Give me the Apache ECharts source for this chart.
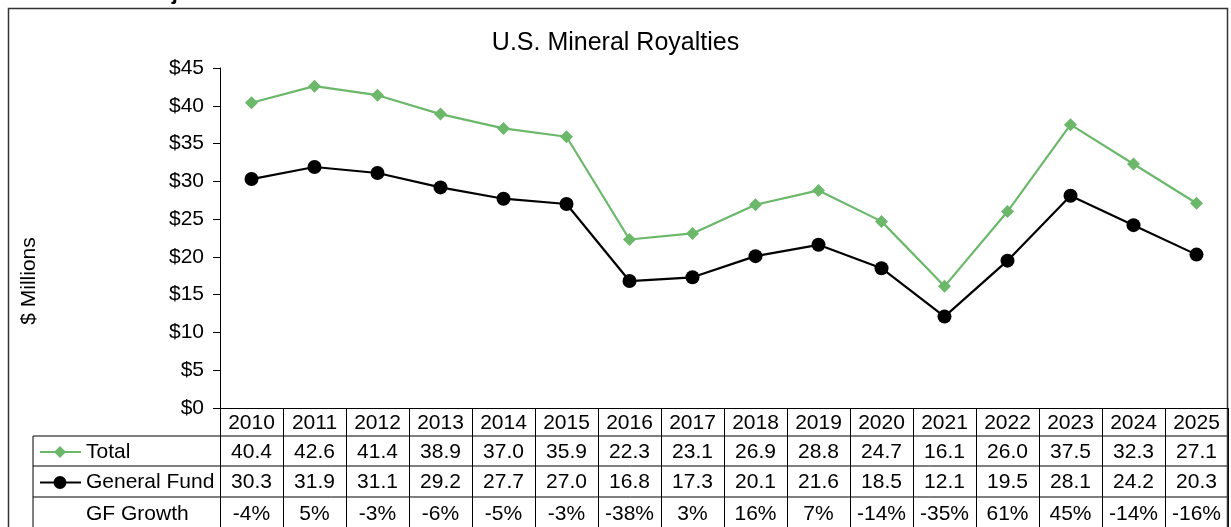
<!DOCTYPE html>
<html>
<head>
<meta charset="utf-8">
<script src="https://cdn.jsdelivr.net/npm/echarts@6/dist/echarts.min.js"></script>
<style>
  html, body { margin: 0; padding: 0; background: #fff; }
  #chart { width: 1231px; height: 527px; }
</style>
</head>
<body>
<div id="chart"></div>
<script>
const years = ['2010', '2011', '2012', '2013', '2014', '2015', '2016', '2017',
  '2018', '2019', '2020', '2021', '2022', '2023', '2024', '2025'];
const total = [40.4, 42.6, 41.4, 38.9, 37.0, 35.9, 22.3, 23.1, 26.9, 28.8, 24.7, 16.1, 26.0, 37.5, 32.3, 27.1];
const generalFund = [30.3, 31.9, 31.1, 29.2, 27.7, 27.0, 16.8, 17.3, 20.1, 21.6, 18.5, 12.1, 19.5, 28.1, 24.2, 20.3];
const gfGrowth = ['-4%', '5%', '-3%', '-6%', '-5%', '-3%', '-38%', '3%', '16%', '7%', '-14%', '-35%', '61%', '45%', '-14%', '-16%'];

const GREEN = '#6bb86b';
const FAMILY = '"Liberation Sans", Arial, sans-serif';
const FONT = '21px ' + FAMILY;

const chart = echarts.init(document.getElementById('chart'), null, { renderer: 'canvas' });

chart.setOption({
  animation: false,
  title: {
    text: 'U.S. Mineral Royalties',
    left: 'center',
    top: 26,
    textStyle: { fontFamily: FAMILY, fontSize: 25, fontWeight: 'normal', color: '#000' }
  },
  grid: { left: 220, right: 3, top: 68, bottom: 119 },
  xAxis: {
    type: 'category',
    data: years,
    boundaryGap: true,
    axisLine: { lineStyle: { color: '#000', width: 1 } },
    axisTick: { show: false },
    axisLabel: { show: false }
  },
  yAxis: {
    type: 'value',
    min: 0,
    max: 45,
    interval: 5,
    axisLine: { show: true, lineStyle: { color: '#000', width: 1 } },
    axisTick: { show: true, length: 7, lineStyle: { color: '#000' } },
    splitLine: { show: false },
    axisLabel: {
      formatter: '${value}',
      fontFamily: FAMILY,
      fontSize: 21,
      color: '#000',
      margin: 16
    }
  },
  series: [
    {
      name: 'Total',
      type: 'line',
      data: total,
      symbol: 'diamond',
      symbolSize: 13,
      lineStyle: { color: GREEN, width: 2.2 },
      itemStyle: { color: GREEN }
    },
    {
      name: 'General Fund',
      type: 'line',
      data: generalFund,
      symbol: 'circle',
      symbolSize: 14,
      lineStyle: { color: '#000', width: 2.2 },
      itemStyle: { color: '#000' }
    }
  ]
});

// data table below the plot, laid out on the category axis
const x0 = chart.convertToPixel({ xAxisIndex: 0 }, 0);
const x1 = chart.convertToPixel({ xAxisIndex: 0 }, 1);
const band = x1 - x0;
const axisY = chart.convertToPixel({ yAxisIndex: 0 }, 0);
const rowTops = [axisY, axisY + 28, axisY + 58, axisY + 89, axisY + 121];
const leftEdge = x0 - band / 2;
const rightEdge = chart.convertToPixel({ xAxisIndex: 0 }, years.length - 1) + band / 2;
const labelLeft = 33;

const els = [];
const line = (xa, ya, xb, yb) => els.push({
  type: 'line',
  shape: { x1: xa, y1: ya, x2: xb, y2: yb },
  style: { stroke: '#000', lineWidth: 1 },
  silent: true
});
const text = (t, x, y, align) => els.push({
  type: 'text',
  style: { text: t, x: x, y: y, align: align || 'center', verticalAlign: 'middle', font: FONT, fill: '#000' },
  silent: true
});

// horizontal rules
line(leftEdge, rowTops[1], rightEdge, rowTops[1]);
line(labelLeft, rowTops[1], leftEdge, rowTops[1]);
line(labelLeft, rowTops[2], rightEdge, rowTops[2]);
line(labelLeft, rowTops[3], rightEdge, rowTops[3]);
line(labelLeft, rowTops[1], labelLeft, rowTops[4]);

// column rules
for (let i = 0; i <= years.length; i++) {
  const x = Math.round(leftEdge + i * band) + 0.5;
  line(x, rowTops[0], x, rowTops[4]);
}

const rows = [years, total.map(v => v.toFixed(1)), generalFund.map(v => v.toFixed(1)), gfGrowth];
rows.forEach((row, r) => {
  const cy = (rowTops[r] + rowTops[r + 1]) / 2 + 1;
  row.forEach((v, i) => text(v, chart.convertToPixel({ xAxisIndex: 0 }, i), cy));
});

// row labels with legend keys
const cyT = (rowTops[1] + rowTops[2]) / 2 + 1;
const cyG = (rowTops[2] + rowTops[3]) / 2 + 1;
const cyR = (rowTops[3] + rowTops[4]) / 2 + 1;
els.push({ type: 'line', shape: { x1: 40, y1: cyT, x2: 81, y2: cyT }, style: { stroke: GREEN, lineWidth: 2 }, silent: true });
els.push({ type: 'polygon', shape: { points: [[60, cyT - 6], [66, cyT], [60, cyT + 6], [54, cyT]] }, style: { fill: GREEN }, silent: true });
els.push({ type: 'line', shape: { x1: 40, y1: cyG, x2: 81, y2: cyG }, style: { stroke: '#000', lineWidth: 2 }, silent: true });
els.push({ type: 'circle', shape: { cx: 60, cy: cyG, r: 6.5 }, style: { fill: '#000' }, silent: true });
text('Total', 86, cyT, 'left');
text('General Fund', 86, cyG, 'left');
text('GF Growth', 86, cyR, 'left');

// y axis title, sitting lower than the plot middle as in the original
els.push({
  type: 'text',
  x: 29,
  y: 281,
  rotation: Math.PI / 2,
  style: { text: '$ Millions', x: 0, y: 0, align: 'center', verticalAlign: 'middle', font: FONT, fill: '#000' },
  silent: true
});

// outer chart frame and the cut-off page heading above it
els.push({ type: 'rect', shape: { x: 8.5, y: 8.5, width: 1219, height: 540 }, style: { fill: null, stroke: '#333', lineWidth: 1.5 }, silent: true });
els.push({
  type: 'text',
  style: { text: 'Revenue and Projections', x: -8, y: -18, font: 'bold 22px ' + FAMILY, fill: '#000', verticalAlign: 'top' },
  silent: true
});

chart.setOption({ graphic: els });
</script>
</body>
</html>
